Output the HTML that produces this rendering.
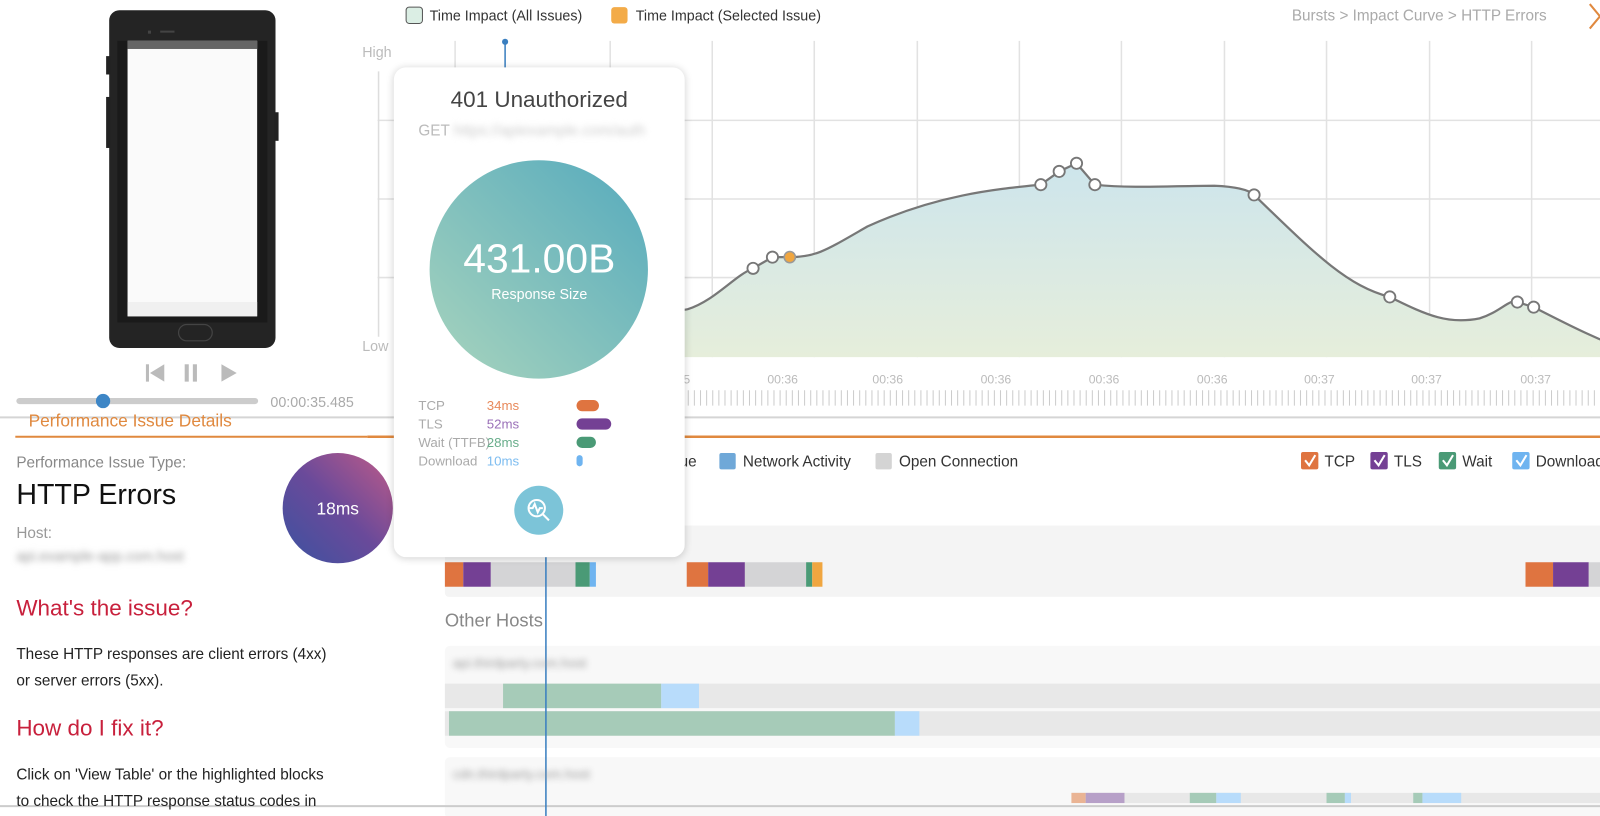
<!DOCTYPE html>
<html><head><meta charset="utf-8"><style>
body{margin:0;width:1600px;height:800px;overflow:hidden;background:#fff;font-family:"Liberation Sans",sans-serif;position:relative}
#w{position:absolute;left:0;top:0;width:1600px;height:800px;transform:scale(1.0204);transform-origin:0 0}
.a{position:absolute;white-space:nowrap}
.blur{filter:blur(3px);color:#999}
</style></head><body><div id="w">
<svg class="a" style="left:0;top:0" width="1600" height="800">
<defs>
<linearGradient id="fill" x1="0" y1="0" x2="0" y2="1"><stop offset="0" stop-color="#cde5ec"/><stop offset="1" stop-color="#e6eedb"/></linearGradient>
<linearGradient id="c1" x1="0" y1="1" x2="1" y2="0"><stop offset="0" stop-color="#a8d4bd"/><stop offset="1" stop-color="#55aabd"/></linearGradient>
<linearGradient id="c2" x1="0" y1="1" x2="1" y2="0"><stop offset="0" stop-color="#3b52a0"/><stop offset="0.5" stop-color="#6a4a9a"/><stop offset="1" stop-color="#c05b88"/></linearGradient>
</defs>
<g stroke="#e2e2e2" stroke-width="1.5">
<line x1="370" y1="118" x2="1600" y2="118"/><line x1="370" y1="195" x2="1600" y2="195"/><line x1="370" y1="272" x2="1600" y2="272"/>
<line x1="446" y1="40" x2="446" y2="350"/><line x1="598" y1="40" x2="598" y2="350"/><line x1="698" y1="40" x2="698" y2="350"/><line x1="798" y1="40" x2="798" y2="350"/><line x1="899" y1="40" x2="899" y2="350"/><line x1="999" y1="40" x2="999" y2="350"/><line x1="1099" y1="40" x2="1099" y2="350"/><line x1="1200" y1="40" x2="1200" y2="350"/><line x1="1300" y1="40" x2="1300" y2="350"/><line x1="1401" y1="40" x2="1401" y2="350"/><line x1="1501" y1="40" x2="1501" y2="350"/>
</g>
<line x1="371" y1="70" x2="371" y2="330" stroke="#ddd" stroke-width="1.5"/>
<path d="M600,305 C640,305 665,305 674,303 C700,295 720,270 738,263 L757,252 L774,252 C800,252 810,245 850,222 C920,190 980,185 1020,181 L1038,168 L1055,160 L1073,181 C1110,185 1150,182 1190,182 C1215,183 1225,187 1229,191 C1290,250 1320,280 1362,291 C1400,310 1420,318 1450,312 C1470,306 1480,292 1487,296 L1503,301 C1540,320 1570,335 1600,345 L1600,350 L600,350 Z" fill="url(#fill)"/>
<path d="M600,305 C640,305 665,305 674,303 C700,295 720,270 738,263 L757,252 L774,252 C800,252 810,245 850,222 C920,190 980,185 1020,181 L1038,168 L1055,160 L1073,181 C1110,185 1150,182 1190,182 C1215,183 1225,187 1229,191 C1290,250 1320,280 1362,291 C1400,310 1420,318 1450,312 C1470,306 1480,292 1487,296 L1503,301 C1540,320 1570,335 1600,345" fill="none" stroke="#777" stroke-width="2.2"/>
<g fill="#fff" stroke="#777" stroke-width="1.8">
<circle cx="738" cy="263" r="5.5"/><circle cx="757" cy="252" r="5.5"/><circle cx="1020" cy="181" r="5.5"/><circle cx="1038" cy="168" r="5.5"/><circle cx="1055" cy="160" r="5.5"/><circle cx="1073" cy="181" r="5.5"/><circle cx="1229" cy="191" r="5.5"/><circle cx="1362" cy="291" r="5.5"/><circle cx="1487" cy="296" r="5.5"/><circle cx="1503" cy="301" r="5.5"/>
</g>
<circle cx="774" cy="252" r="5.5" fill="#f0a640" stroke="#999" stroke-width="1.5"/>
<g fill="#bbb" font-size="12" font-family="Liberation Sans" text-anchor="middle">
<text x="673" y="376">5</text><text x="767" y="376">00:36</text><text x="870" y="376">00:36</text><text x="976" y="376">00:36</text><text x="1082" y="376">00:36</text><text x="1188" y="376">00:36</text><text x="1293" y="376">00:37</text><text x="1398" y="376">00:37</text><text x="1505" y="376">00:37</text>
</g>
<line x1="674" y1="390" x2="1600" y2="390" stroke="#ccc" stroke-width="15" stroke-dasharray="1 5"/>
<line x1="0" y1="409" x2="1600" y2="409" stroke="#d5d5d5" stroke-width="2"/>
<line x1="15" y1="428" x2="360" y2="428" stroke="#e0893f" stroke-width="2"/>
<line x1="360" y1="428" x2="1600" y2="428" stroke="#e0893f" stroke-width="2.5"/>
<text x="28" y="418" fill="#e0893f" font-size="17" font-family="Liberation Sans">Performance Issue Details</text>
<line x1="495" y1="41" x2="495" y2="70" stroke="#3a7fc0" stroke-width="1.5"/><circle cx="495" cy="41" r="3" fill="#3a7fc0"/>
<rect x="107" y="10" width="163" height="331" rx="10" fill="#242424"/>
<rect x="104" y="55" width="4" height="18" fill="#222"/><rect x="104" y="95" width="4" height="50" fill="#222"/><rect x="269" y="110" width="4" height="28" fill="#222"/>
<rect x="115" y="40" width="147" height="276" fill="#1a1a1a"/>
<rect x="125" y="40" width="127" height="270" fill="#fafafa"/>
<rect x="125" y="40" width="127" height="8" fill="#666"/>
<rect x="125" y="296" width="127" height="14" fill="#f0f0f0"/>
<rect x="175" y="318" width="33" height="16" rx="8" fill="none" stroke="#444" stroke-width="1.2"/>
<rect x="145" y="30" width="3" height="3" fill="#444"/><rect x="157" y="30" width="14" height="2" fill="#444"/>
<rect x="143" y="357" width="3" height="17" fill="#bbb"/><path d="M147,365.5 L161,357 V374 Z" fill="#bbb"/>
<rect x="181" y="357" width="4" height="17" fill="#bbb"/><rect x="189" y="357" width="4" height="17" fill="#bbb"/>
<path d="M217,357 L232,365.5 L217,374 Z" fill="#bbb"/>
<rect x="16" y="390" width="237" height="6" rx="3" fill="#ccc"/>
<circle cx="101" cy="393" r="7" fill="#3d86c6"/>
<circle cx="331" cy="498" r="54" fill="url(#c2)"/>
<rect x="436" y="515" width="1164" height="70" rx="4" fill="#f4f4f4"/>
<rect x="436" y="551" width="18" height="24" fill="#df7440"/><rect x="454" y="551" width="27" height="24" fill="#744094"/><rect x="481" y="551" width="83" height="24" fill="#d4d4d6"/><rect x="564" y="551" width="14" height="24" fill="#4a9a76"/><rect x="578" y="551" width="6" height="24" fill="#6fb4f0"/>
<rect x="673" y="551" width="21" height="24" fill="#df7440"/><rect x="694" y="551" width="36" height="24" fill="#744094"/><rect x="730" y="551" width="60" height="24" fill="#d4d4d6"/><rect x="790" y="551" width="6" height="24" fill="#4a9a76"/><rect x="796" y="551" width="10" height="24" fill="#f0a640"/>
<rect x="1495" y="551" width="27" height="24" fill="#df7440"/><rect x="1522" y="551" width="35" height="24" fill="#744094"/><rect x="1557" y="551" width="43" height="24" fill="#d4d4d6"/>
<rect x="436" y="633" width="1164" height="100" rx="5" fill="#f8f8f8"/>
<rect x="436" y="670" width="1164" height="24" fill="#e8e8e8"/><rect x="493" y="670" width="155" height="24" fill="#a6cbb8"/><rect x="648" y="670" width="37" height="24" fill="#b8dcfb"/>
<rect x="436" y="697" width="1164" height="24" fill="#e8e8e8"/><rect x="440" y="697" width="437" height="24" fill="#a6cbb8"/><rect x="877" y="697" width="24" height="24" fill="#b8dcfb"/>
<rect x="436" y="742" width="1164" height="60" rx="5" fill="#f8f8f8"/>
<rect x="1050" y="777" width="550" height="10" fill="#e8e8e8"/><rect x="1050" y="777" width="14" height="10" fill="#eab494"/><rect x="1064" y="777" width="38" height="10" fill="#b7a0c8"/><rect x="1166" y="777" width="26" height="10" fill="#a6cbb8"/><rect x="1192" y="777" width="24" height="10" fill="#b8dcfb"/><rect x="1300" y="777" width="18" height="10" fill="#a6cbb8"/><rect x="1318" y="777" width="6" height="10" fill="#b8dcfb"/><rect x="1385" y="777" width="9" height="10" fill="#a6cbb8"/><rect x="1394" y="777" width="38" height="10" fill="#b8dcfb"/>
<line x1="0" y1="790" x2="1600" y2="790" stroke="#ccc" stroke-width="2"/>
<line x1="535" y1="546" x2="535" y2="800" stroke="#3a7fc0" stroke-width="1.5"/>
<rect x="705" y="444" width="16" height="16" rx="2" fill="#6fa8d8"/><rect x="858" y="444" width="16" height="16" rx="2" fill="#d4d4d4"/>
<rect x="1275" y="443" width="17" height="17" rx="2" fill="#df7440"/><rect x="1343" y="443" width="17" height="17" rx="2" fill="#744094"/><rect x="1410" y="443" width="17" height="17" rx="2" fill="#4a9a76"/><rect x="1482" y="443" width="17" height="17" rx="2" fill="#6fb4f0"/>
<g stroke="#fff" stroke-width="2" fill="none"><path d="M1279,451 l4,5 l6,-10"/><path d="M1347,451 l4,5 l6,-10"/><path d="M1414,451 l4,5 l6,-10"/><path d="M1486,451 l4,5 l6,-10"/></g>
<rect x="398" y="7" width="16" height="16" rx="3" fill="#dbeee4" stroke="#555" stroke-width="1"/>
<rect x="599" y="7" width="16" height="16" rx="3" fill="#f3ab48"/>
<path d="M1558,4 L1568,16 L1558,28" fill="none" stroke="#e0893f" stroke-width="2"/>
</svg>
<div class="a" style="left:421px;top:7px;font-size:14px;color:#333">Time Impact (All Issues)</div>
<div class="a" style="left:623px;top:7px;font-size:14px;color:#333">Time Impact (Selected Issue)</div>
<div class="a" style="left:1266px;top:7px;font-size:15px;color:#aaa">Bursts &gt; Impact Curve &gt; HTTP Errors</div>
<div class="a" style="left:355px;top:43px;font-size:14px;color:#bbb">High</div>
<div class="a" style="left:355px;top:331px;font-size:14px;color:#bbb">Low</div>
<div class="a" style="left:265px;top:386px;font-size:14px;color:#aaa">00:00:35.485</div>
<div class="a" style="left:16px;top:445px;font-size:15px;color:#888">Performance Issue Type:</div>
<div class="a" style="left:16px;top:469px;font-size:28px;color:#111">HTTP Errors</div>
<div class="a" style="left:16px;top:514px;font-size:15px;color:#999">Host:</div>
<div class="a blur" style="left:16px;top:537px;font-size:14px">api.example-app.com.host</div>
<div class="a" style="left:331px;top:489px;width:0;font-size:17px;color:#fff"><span style="position:absolute;transform:translateX(-50%)">18ms</span></div>
<div class="a" style="left:16px;top:583px;font-size:22px;color:#c8203c">What's the issue?</div>
<div class="a" style="left:16px;top:629px;font-size:15px;color:#222;line-height:26px">These HTTP responses are client errors (4xx)<br>or server errors (5xx).</div>
<div class="a" style="left:16px;top:701px;font-size:22px;color:#c8203c">How do I fix it?</div>
<div class="a" style="left:16px;top:747px;font-size:15px;color:#222;line-height:26px">Click on 'View Table' or the highlighted blocks<br>to check the HTTP response status codes in</div>
<div class="a" style="left:666px;top:444px;font-size:15px;color:#333">ue</div>
<div class="a" style="left:728px;top:444px;font-size:15px;color:#333">Network Activity</div>
<div class="a" style="left:881px;top:444px;font-size:15px;color:#333">Open Connection</div>
<div class="a" style="left:1298px;top:444px;font-size:15px;color:#333">TCP</div>
<div class="a" style="left:1366px;top:444px;font-size:15px;color:#333">TLS</div>
<div class="a" style="left:1433px;top:444px;font-size:15px;color:#333">Wait</div>
<div class="a" style="left:1505px;top:444px;font-size:15px;color:#333">Download</div>
<div class="a" style="left:436px;top:598px;font-size:18px;color:#888">Other Hosts</div>
<div class="a blur" style="left:444px;top:642px;font-size:13px">api.thirdparty.com.host</div>
<div class="a blur" style="left:444px;top:751px;font-size:13px">cdn.thirdparty.com.host</div>
<div class="a" style="left:386px;top:66px;width:285px;height:480px;background:#fff;border-radius:12px;box-shadow:0 1px 8px rgba(0,0,0,0.18)">
<svg width="285" height="480" style="position:absolute;left:0;top:0">
<circle cx="142" cy="198" r="107" fill="url(#c1)"/>
<rect x="179" y="326" width="22" height="11" rx="5.5" fill="#df7440"/>
<rect x="179" y="344" width="34" height="11" rx="5.5" fill="#744094"/>
<rect x="179" y="362" width="19" height="11" rx="5.5" fill="#4a9a76"/>
<rect x="179" y="380" width="6" height="11" rx="3" fill="#6fb4f0"/>
<circle cx="142" cy="434" r="24" fill="#7cc4d8"/>
<circle cx="140" cy="432" r="8" fill="none" stroke="#fff" stroke-width="2"/><path d="M146,438 l6,6 M133,432 h3 l2,-4 l3,8 l2,-4 h3" stroke="#fff" stroke-width="2" fill="none"/>
</svg>
<div style="position:absolute;left:0;width:285px;top:19px;text-align:center;font-size:22px;color:#444">401 Unauthorized</div>
<div style="position:absolute;left:24px;top:54px;font-size:15px;color:#bbb">GET <span class="blur" style="color:#ccc">https://apiexample.com/auth</span></div>
<div style="position:absolute;left:0;width:285px;top:166px;text-align:center;font-size:40px;color:#fff">431.00B</div>
<div style="position:absolute;left:0;width:285px;top:214px;text-align:center;font-size:14px;color:#fff">Response Size</div>
<div style="position:absolute;left:24px;top:323px;font-size:13px;color:#aaa;line-height:18px">TCP<br>TLS<br>Wait (TTFB)<br>Download</div>
<div style="position:absolute;left:91px;top:323px;font-size:13px;line-height:18px"><span style="color:#e88a5c">34ms</span><br><span style="color:#9a70b8">52ms</span><br><span style="color:#6aae8c">28ms</span><br><span style="color:#7cbcf0">10ms</span></div>
</div>
</div></body></html>
